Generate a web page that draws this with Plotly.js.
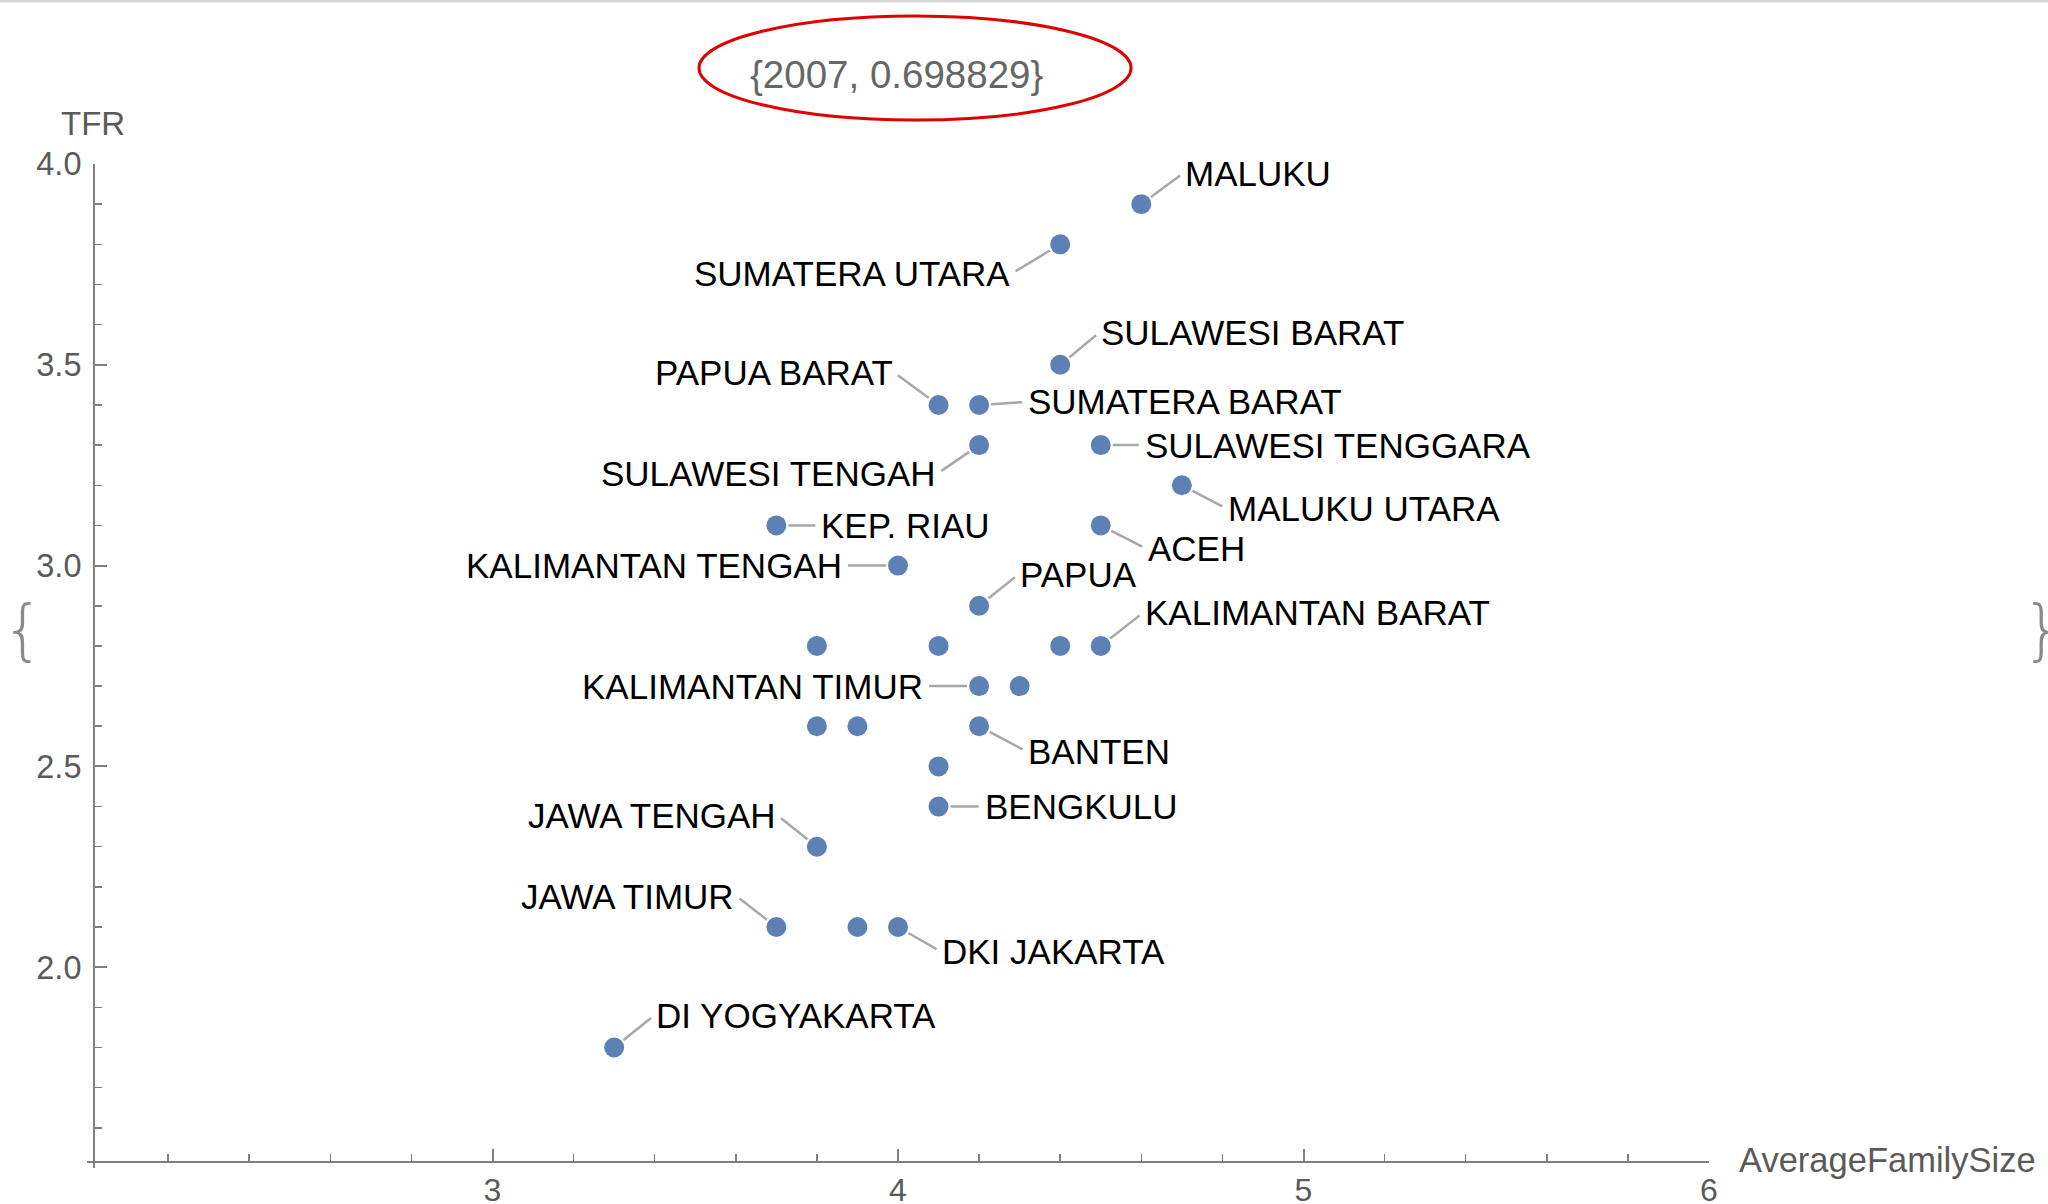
<!DOCTYPE html>
<html>
<head>
<meta charset="utf-8">
<script src="https://cdn.plot.ly/plotly-3.0.1.min.js"></script>
<style>
html,body{margin:0;padding:0;background:#fff;overflow:hidden}
#chart{width:2048px;height:1204px}
</style>
</head>
<body>
<div id="chart"></div>
<script>
// ---- data ----
const provinces = [
  'MALUKU', 'SUMATERA UTARA', 'SULAWESI BARAT', 'PAPUA BARAT', 'SUMATERA BARAT',
  'SULAWESI TENGAH', 'SULAWESI TENGGARA', 'MALUKU UTARA', 'KEP. RIAU', 'ACEH',
  'KALIMANTAN TENGAH', 'PAPUA', '', '', '', 'KALIMANTAN BARAT',
  'KALIMANTAN TIMUR', '', '', '', 'BANTEN', '', 'BENGKULU',
  'JAWA TENGAH', 'JAWA TIMUR', '', 'DKI JAKARTA', 'DI YOGYAKARTA'
];
const familySize = [
  4.6, 4.4, 4.4, 4.1, 4.2,
  4.2, 4.5, 4.7, 3.7, 4.5,
  4.0, 4.2, 3.8, 4.1, 4.4, 4.5,
  4.2, 4.3, 3.8, 3.9, 4.2, 4.1, 4.1,
  3.8, 3.7, 3.9, 4.0, 3.3
];
const tfr = [
  3.9, 3.8, 3.5, 3.4, 3.4,
  3.3, 3.3, 3.2, 3.1, 3.1,
  3.0, 2.9, 2.8, 2.8, 2.8, 2.8,
  2.7, 2.7, 2.6, 2.6, 2.6, 2.5, 2.4,
  2.3, 2.1, 2.1, 2.1, 1.8
];
const xTickVals = [2, 3, 4, 5, 6];
const xTickText = ['', '3', '4', '5', '6'];
const yTickVals = [1.5, 2.0, 2.5, 3.0, 3.5, 4.0];
const yTickText = ['', '2.0', '2.5', '3.0', '3.5', '4.0'];
const headerText = '{2007, 0.698829}';
const xTitle = 'AverageFamilySize';
const yTitle = 'TFR';

// ---- label placement (style: which side, pixel offset of the label from its dot) ----
const labelPlacement = {
  'MALUKU': ['left', 42, -31],
  'SUMATERA UTARA': ['right', -48, 29],
  'SULAWESI BARAT': ['left', 39, -32],
  'PAPUA BARAT': ['right', -44, -32],
  'SUMATERA BARAT': ['left', 47, -3],
  'SULAWESI TENGAH': ['right', -41, 28],
  'SULAWESI TENGGARA': ['left', 42, 0],
  'MALUKU UTARA': ['left', 44, 23],
  'KEP. RIAU': ['left', 43, 0],
  'ACEH': ['left', 45, 23],
  'KALIMANTAN TENGAH': ['right', -54, 0],
  'PAPUA': ['left', 39, -31],
  'KALIMANTAN BARAT': ['left', 42, -33],
  'KALIMANTAN TIMUR': ['right', -54, 0],
  'BANTEN': ['left', 47, 25],
  'BENGKULU': ['left', 44, 0],
  'JAWA TENGAH': ['right', -39, -31],
  'JAWA TIMUR': ['right', -40, -31],
  'DKI JAKARTA': ['left', 42, 24],
  'DI YOGYAKARTA': ['left', 40, -32]
};

const FONT = '"Liberation Sans", Arial, sans-serif';
const AXIS_GRAY = '#808080';
const TEXT_GRAY = '#5a5a5a';

const trace = {
  type: 'scatter',
  mode: 'markers',
  x: familySize,
  y: tfr,
  text: provinces,
  marker: { color: '#5E81B5', size: 20, line: { width: 0 } },
  hoverinfo: 'skip',
  cliponaxis: false
};

const annotations = [];
provinces.forEach((name, i) => {
  if (!name) return;
  const p = labelPlacement[name];
  annotations.push({
    x: familySize[i], y: tfr[i], xref: 'x', yref: 'y',
    text: name,
    showarrow: true, arrowhead: 0, arrowwidth: 2.5, arrowcolor: '#a8a8a8',
    standoff: 12, startstandoff: 4,
    ax: p[1], ay: p[2], axref: 'pixel', ayref: 'pixel',
    xanchor: p[0], yanchor: 'middle',
    font: { family: FONT, size: 35, color: '#000000' }
  });
});

// decorations / titles in paper coordinates
annotations.push(
  { xref: 'paper', yref: 'paper', x: 0.4988, y: 1.0896, text: headerText, showarrow: false,
    xanchor: 'center', yanchor: 'middle', font: { family: FONT, size: 38.5, color: '#666666' } },
  { xref: 'paper', yref: 'paper', x: 0.0037, y: 1.0408, text: yTitle, showarrow: false,
    xanchor: 'center', yanchor: 'middle', font: { family: FONT, size: 33, color: TEXT_GRAY } },
  { xref: 'paper', yref: 'paper', x: 1.0172, y: 0.008, text: xTitle, showarrow: false,
    xanchor: 'left', yanchor: 'middle', font: { family: FONT, size: 34.5, color: TEXT_GRAY } },
  { xref: 'paper', yref: 'paper', x: -0.0395, y: 0.5359, text: '{', showarrow: false,
    xanchor: 'center', yanchor: 'middle', font: { family: '"DejaVu Sans", sans-serif', size: 66, color: '#8a8a8a', weight: 200 } },
  { xref: 'paper', yref: 'paper', x: 1.2059, y: 0.5359, text: '}', showarrow: false,
    xanchor: 'center', yanchor: 'middle', font: { family: '"DejaVu Sans", sans-serif', size: 66, color: '#8a8a8a', weight: 200 } }
);

const shapes = [
  { type: 'circle', xref: 'paper', yref: 'paper', x0: 0.3773, x1: 0.6437, y0: 1.0438, y1: 1.1474,
    line: { color: '#e00000', width: 3 }, fillcolor: 'rgba(0,0,0,0)' },
  { type: 'line', xref: 'paper', yref: 'paper', x0: -0.06, x1: 1.22, y0: 1.1624, y1: 1.1624,
    line: { color: '#d6d6d6', width: 3 } }
];

const layout = {
  width: 2048, height: 1204,
  margin: { l: 87, r: 339, t: 164, b: 36, pad: 0 },
  paper_bgcolor: '#ffffff', plot_bgcolor: '#ffffff',
  showlegend: false, hovermode: false,
  font: { family: FONT, color: TEXT_GRAY },
  xaxis: {
    range: [2, 6], anchor: 'free', position: 0.006,
    showgrid: false, zeroline: false,
    showline: true, linecolor: AXIS_GRAY, linewidth: 2,
    tickmode: 'array', tickvals: xTickVals, ticktext: xTickText,
    ticks: 'inside', ticklen: 12, tickwidth: 2, tickcolor: AXIS_GRAY,
    tickfont: { family: FONT, size: 32, color: TEXT_GRAY },
    minor: { tickmode: 'linear', tick0: 0, dtick: 0.2, ticks: 'inside', ticklen: 7, tickwidth: 1.5, tickcolor: AXIS_GRAY, showgrid: false },
    fixedrange: true
  },
  yaxis: {
    range: [1.5, 4.0], anchor: 'free', position: 0.0043,
    showgrid: false, zeroline: false,
    showline: true, linecolor: AXIS_GRAY, linewidth: 2,
    tickmode: 'array', tickvals: yTickVals, ticktext: yTickText,
    ticks: 'inside', ticklen: 12, tickwidth: 2, tickcolor: AXIS_GRAY,
    ticklabelstandoff: 5,
    tickfont: { family: FONT, size: 32.5, color: TEXT_GRAY },
    minor: { tickmode: 'linear', tick0: 0, dtick: 0.1, ticks: 'inside', ticklen: 7, tickwidth: 1.5, tickcolor: AXIS_GRAY, showgrid: false },
    fixedrange: true
  },
  annotations: annotations,
  shapes: shapes
};

Plotly.newPlot('chart', [trace], layout, { displayModeBar: false, staticPlot: true });
</script>
</body>
</html>
